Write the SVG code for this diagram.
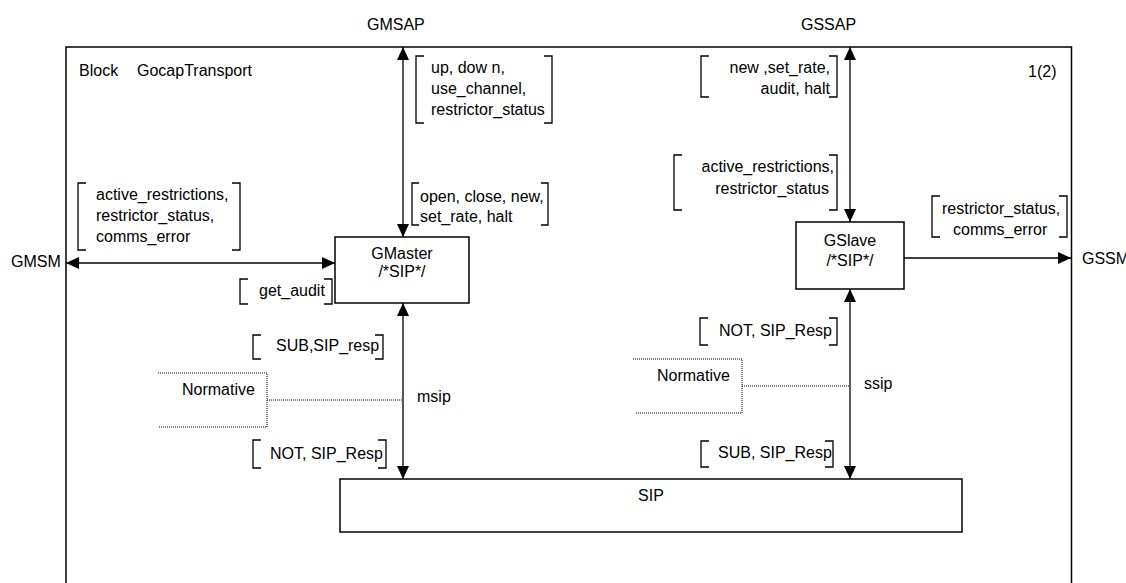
<svg xmlns="http://www.w3.org/2000/svg" width="1126" height="583" viewBox="0 0 1126 583">
<style>
text{font-family:"Liberation Sans",Arial,sans-serif;font-size:16px;fill:#000}
.box{fill:#fff;stroke:#000;stroke-width:1.5}
.ln{fill:none;stroke:#000;stroke-width:1.3}
.br{fill:none;stroke:#000;stroke-width:1.3}
.dot{fill:none;stroke:#000;stroke-width:1;stroke-dasharray:1 1}
.c{text-anchor:middle}
.e{text-anchor:end}
</style>
<defs>
<marker id="ah" markerUnits="userSpaceOnUse" markerWidth="13" markerHeight="12" refX="13" refY="6" orient="auto-start-reverse">
<path d="M0,0 L13,6 L0,12 Z" fill="#000"/>
</marker>
</defs>
<rect x="66" y="47" width="1005.5" height="560" fill="none" stroke="#000" stroke-width="1.5"/>
<g id="titles">
<text x="367" y="30">GMSAP</text>
<text x="801" y="30">GSSAP</text>
<text x="79" y="76">Block</text>
<text x="137" y="76">GocapTransport</text>
<text x="1028" y="77">1(2)</text>
<text x="11" y="267">GMSM</text>
<text x="1082" y="264">GSSM</text>
</g>
<g id="connectors">
<line class="ln" x1="403" y1="47" x2="403" y2="237" marker-start="url(#ah)" marker-end="url(#ah)"/>
<line class="ln" x1="850" y1="47" x2="850" y2="222" marker-start="url(#ah)" marker-end="url(#ah)"/>
<line class="ln" x1="66" y1="263" x2="335" y2="263" marker-start="url(#ah)" marker-end="url(#ah)"/>
<line class="ln" x1="904" y1="258" x2="1071" y2="258" marker-end="url(#ah)"/>
<line class="ln" x1="403" y1="303" x2="403" y2="479" marker-start="url(#ah)" marker-end="url(#ah)"/>
<line class="ln" x1="850" y1="289" x2="850" y2="479" marker-start="url(#ah)" marker-end="url(#ah)"/>
<text x="417" y="402">msip</text>
<text x="864" y="389">ssip</text>
</g>
<g id="GMaster">
<rect class="box" x="335" y="237" width="134" height="66"/>
<text class="c" x="402" y="259">GMaster</text>
<text class="c" x="402" y="277">/*SIP*/</text>
</g>
<g id="GSlave">
<rect class="box" x="796" y="222" width="108" height="67"/>
<text class="c" x="850" y="246">GSlave</text>
<text class="c" x="850" y="266">/*SIP*/</text>
</g>
<g id="SIP">
<rect class="box" x="340" y="479" width="622" height="53"/>
<text class="c" x="651" y="501">SIP</text>
</g>
<g id="label-gmsap">
<path class="br" d="M424,56 H416 V123 H424 M544,56 H552 V123 H544"/>
<text x="431" y="73">up, dow n,</text>
<text x="431" y="94">use_channel,</text>
<text x="431" y="115">restrictor_status</text>
</g>
<g id="label-gmaster-in">
<path class="br" d="M419,183 H412 V225 H419 M541,183 H548 V225 H541"/>
<text x="420" y="202">open, close, new,</text>
<text x="420" y="222">set_rate, halt</text>
</g>
<g id="label-gmsm">
<path class="br" d="M86,183 H78 V250 H86 M232,183 H240 V250 H232"/>
<text x="96" y="200">active_restrictions,</text>
<text x="96" y="221">restrictor_status,</text>
<text x="96" y="242">comms_error</text>
</g>
<g id="label-get-audit">
<path class="br" d="M248,279 H240 V304 H248 M324,279 H332 V304 H324"/>
<text x="259" y="296">get_audit</text>
</g>
<g id="label-msip-up">
<path class="br" d="M261,335 H253 V359 H261 M375,335 H383 V359 H375"/>
<text x="276" y="351">SUB,SIP_resp</text>
</g>
<g id="label-msip-down">
<path class="br" d="M261,440 H253 V468 H261 M378,440 H386 V468 H378"/>
<text x="270" y="459">NOT, SIP_Resp</text>
</g>
<g id="label-gssap">
<path class="br" d="M709,56 H701 V97 H709 M829,56 H837 V97 H829"/>
<text class="e" x="830" y="73">new ,set_rate,</text>
<text class="e" x="830" y="94">audit, halt</text>
</g>
<g id="label-gslave-out">
<path class="br" d="M682,155 H674 V210 H682 M829,155 H837 V210 H829"/>
<text class="e" x="834" y="172">active_restrictions,</text>
<text class="e" x="829" y="194">restrictor_status</text>
</g>
<g id="label-gssm">
<path class="br" d="M940,196 H932 V237 H940 M1059,196 H1067 V237 H1059"/>
<text x="942" y="214">restrictor_status,</text>
<text x="953" y="235">comms_error</text>
</g>
<g id="label-ssip-up">
<path class="br" d="M708,318 H700 V345 H708 M829,318 H837 V345 H829"/>
<text x="719" y="336">NOT, SIP_Resp</text>
</g>
<g id="label-ssip-down">
<path class="br" d="M709,441 H701 V467 H709 M825,441 H833 V467 H825"/>
<text x="718" y="458">SUB, SIP_Resp</text>
</g>
<g id="normative-left">
<path class="dot" d="M158,373 H267 V427 H158 M267,400 H403"/>
<text x="182" y="395">Normative</text>
</g>
<g id="normative-right">
<path class="dot" d="M633,359 H742 V413 H635 M742,386 H850"/>
<text x="657" y="381">Normative</text>
</g>
</svg>
